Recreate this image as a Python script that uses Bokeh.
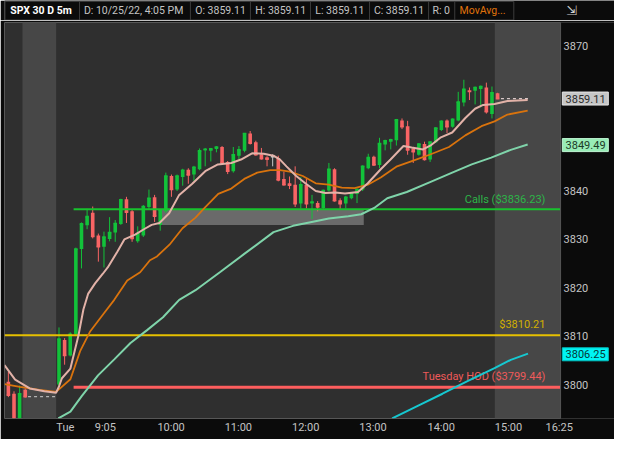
from bokeh.plotting import figure
from bokeh.models import Range1d, FixedTicker, ColumnDataSource
from bokeh.layouts import column
from bokeh.embed import file_html
from bokeh.resources import INLINE
from bokeh.core.properties import value

FONT = value("Roboto")

# ---------------- data ----------------
# bar index: 0 = first 5-min bar of Tuesday session; negatives = Monday close
bar_idx = [-9, -8, -7, -6] + list(range(0, 79))
opens = [3800.6, 3798.1, 3792.0, 3798.9,
         3800.0, 3809.2, 3806.0, 3810.4, 3828.0, 3832.9, 3835.5, 3830.8, 3828.5, 3830.1,
         3831.4, 3833.2, 3838.3, 3835.8, 3829.6, 3830.8, 3836.7, 3838.7, 3833.0, 3835.8,
         3843.1, 3840.3, 3842.9, 3844.4, 3843.4, 3844.5, 3848.4, 3848.3, 3848.7, 3849.1,
         3846.0, 3844.1, 3847.3, 3848.3, 3851.9, 3850.1, 3847.6, 3847.0, 3847.1, 3846.8,
         3842.5, 3841.6, 3841.3, 3837.4, 3841.3, 3837.4, 3837.5, 3836.5, 3840.1, 3844.5,
         3838.1, 3837.4, 3838.5, 3839.4, 3840.3, 3844.7, 3847.1, 3845.4, 3849.6, 3850.2,
         3850.5, 3854.6, 3853.4, 3848.8, 3847.5, 3849.7, 3846.5, 3850.1, 3852.6, 3854.6,
         3853.3, 3854.6, 3858.3, 3860.8, 3860.7, 3861.1, 3861.4, 3855.9, 3860.2]
highs = [3802.6, 3798.6, 3799.8, 3799.2,
         3811.8, 3809.6, 3810.8, 3828.3, 3833.5, 3836.3, 3836.8, 3831.2, 3831.6, 3834.6,
         3834.0, 3838.4, 3838.8, 3836.2, 3832.7, 3837.1, 3840.3, 3839.2, 3836.3, 3843.8,
         3843.4, 3843.4, 3844.6, 3844.7, 3845.2, 3848.8, 3848.9, 3848.9, 3849.3, 3849.3,
         3846.2, 3849.1, 3849.3, 3852.0, 3852.4, 3850.4, 3848.9, 3847.2, 3847.6, 3847.3,
         3844.0, 3843.0, 3845.1, 3842.9, 3842.5, 3839.2, 3837.9, 3840.3, 3845.8, 3844.7,
         3838.5, 3839.0, 3839.8, 3840.5, 3845.3, 3847.7, 3847.3, 3851.0, 3850.6, 3850.8,
         3854.9, 3855.0, 3854.5, 3849.0, 3849.9, 3850.2, 3850.3, 3853.2, 3854.6, 3854.8,
         3855.0, 3860.5, 3863.0, 3861.4, 3861.6, 3861.8, 3862.4, 3861.6, 3860.3]
lows = [3797.4, 3791.0, 3791.0, 3797.3,
        3799.5, 3804.1, 3805.8, 3810.0, 3824.0, 3832.1, 3830.2, 3825.4, 3824.2, 3829.6,
        3829.5, 3833.0, 3833.4, 3829.5, 3829.3, 3830.5, 3836.2, 3833.6, 3831.8, 3835.5,
        3838.8, 3840.0, 3841.1, 3841.5, 3842.1, 3844.3, 3845.1, 3846.1, 3848.0, 3845.5,
        3843.5, 3843.8, 3846.5, 3848.0, 3849.6, 3847.3, 3846.5, 3845.1, 3845.1, 3842.0,
        3841.1, 3840.4, 3836.7, 3836.4, 3836.4, 3834.2, 3835.8, 3836.3, 3839.9, 3837.8,
        3836.2, 3836.4, 3838.3, 3837.5, 3840.0, 3844.5, 3845.2, 3844.7, 3848.4, 3848.6,
        3849.4, 3852.8, 3847.5, 3845.8, 3847.3, 3846.3, 3846.0, 3849.9, 3852.4, 3852.0,
        3853.1, 3854.4, 3857.5, 3858.8, 3857.9, 3857.3, 3856.0, 3855.0, 3859.0]
closes = [3797.8, 3792.0, 3798.1, 3797.5,
          3809.4, 3806.0, 3810.4, 3828.0, 3833.2, 3834.7, 3830.6, 3828.5, 3830.5, 3831.4,
          3833.3, 3838.2, 3835.6, 3830.2, 3831.2, 3836.8, 3838.5, 3834.8, 3836.0, 3843.1,
          3840.3, 3843.1, 3844.3, 3843.3, 3844.9, 3848.3, 3848.6, 3848.7, 3849.1, 3845.8,
          3844.1, 3847.5, 3848.5, 3851.9, 3849.9, 3847.5, 3846.7, 3846.6, 3847.1, 3842.3,
          3841.3, 3841.2, 3837.4, 3841.3, 3837.4, 3837.7, 3836.7, 3840.1, 3844.5, 3838.0,
          3837.4, 3838.7, 3839.6, 3840.3, 3845.1, 3846.9, 3845.4, 3849.8, 3850.4, 3850.6,
          3854.7, 3853.3, 3848.5, 3848.1, 3849.7, 3846.5, 3850.1, 3853.0, 3854.4, 3853.3,
          3854.8, 3858.4, 3861.0, 3860.6, 3861.4, 3861.6, 3856.4, 3860.3, 3859.1]

# moving averages (bar index, price)
ma_fast_x = [-9.7, -7.8, -5.2, -2.6, -0.52, 0.0, 0.52, 2.03, 3.47, 4.34, 5.2, 6.42, 7.8, 8.67,
             10.4, 11.62, 13.53, 15.26, 16.47, 17.86, 19.59, 21.33, 23.7, 26.01, 28.26, 30.64,
             32.37, 34.33, 36.41, 38.15, 39.31, 40.45, 42.19, 43.92, 45.66, 47.39, 49.12, 50.86,
             53.18, 54.92, 57.22, 58.96, 61.26, 62.72, 64.73, 66.19, 67.92, 69.93, 72.26, 73.99,
             75.43, 77.46, 79.76, 83.35]
ma_fast_y = [3804.0, 3801.0, 3799.2, 3798.6, 3798.3, 3799.6, 3801.3, 3803.3, 3810.2, 3815.5,
             3818.8, 3820.9, 3822.9, 3824.2, 3827.5, 3830.0, 3831.0, 3832.2, 3833.0, 3833.4,
             3835.4, 3839.1, 3841.5, 3844.1, 3845.5, 3845.8, 3846.5, 3847.8, 3847.7, 3847.3,
             3846.5, 3845.1, 3843.1, 3841.5, 3840.0, 3839.6, 3839.7, 3839.5, 3839.8, 3841.6,
             3844.5, 3846.5, 3849.3, 3849.0, 3848.6, 3849.5, 3851.1, 3852.1, 3855.1, 3857.0,
             3857.8, 3858.0, 3858.6, 3858.8]
ma_mid_x = [-9.7, -6.94, -3.47, -0.52, 0.0, 2.03, 3.76, 5.5, 8.1, 9.83, 12.14, 14.44, 16.18,
            17.34, 19.65, 21.97, 24.28, 25.72, 28.32, 30.64, 32.95, 35.25, 37.58, 39.31, 41.04,
            43.35, 45.66, 47.98, 50.29, 52.59, 54.92, 57.22, 60.12, 63.0, 65.89, 69.36, 72.26,
            75.13, 77.46, 79.76, 83.35]
ma_mid_y = [3800.1, 3799.5, 3798.9, 3798.5, 3799.0, 3801.1, 3806.9, 3810.9, 3814.9, 3817.5,
            3821.5, 3823.2, 3825.7, 3826.4, 3828.9, 3832.3, 3834.5, 3836.3, 3839.4, 3840.5,
            3842.5, 3843.8, 3844.3, 3844.3, 3844.0, 3843.1, 3841.6, 3841.3, 3840.7, 3840.6,
            3841.3, 3842.8, 3845.1, 3846.3, 3847.5, 3849.1, 3851.5, 3853.4, 3854.4, 3855.8,
            3856.6]
ma_slow_x = [-0.12, 2.03, 4.04, 6.94, 9.83, 12.71, 15.61, 18.5, 21.38, 24.28, 28.61, 32.95,
             38.15, 41.62, 44.51, 47.98, 51.45, 53.75, 56.06, 58.38, 61.85, 65.89, 69.93,
             73.4, 76.87, 80.34, 83.35]
ma_slow_y = [3793.0, 3794.4, 3797.6, 3801.9, 3805.2, 3808.6, 3811.2, 3813.9, 3817.5, 3819.5,
             3823.2, 3827.0, 3831.5, 3832.8, 3833.5, 3834.3, 3834.8, 3835.2, 3836.5, 3838.5,
             3839.8, 3841.8, 3843.8, 3845.5, 3846.9, 3848.5, 3849.6]
ma_long_x = [59.25, 64.16, 68.2, 72.83, 77.46, 80.34, 83.41]
ma_long_y = [3793.0, 3795.8, 3798.1, 3800.8, 3803.4, 3805.1, 3806.4]

# price levels
calls_level = 3836.23
level_1 = 3810.21
hod_level = 3799.44
zone_low = 3833.0
zone_start, zone_end = 18.2, 54.2

# session boundaries (bar index)
ext_sessions = [(-6.5, -0.5), (77.5, 89.2)]
prev_close = 3797.5
last_price = 3859.11
ma_slow_last = 3849.49
ma_long_last = 3806.25

# axis ticks (positions = label centres)
x_tick_pos = [1.13, 8.24, 19.94, 31.9, 43.87, 55.84, 67.97, 79.94, 88.95]
x_tick_lab = ["Tue", "9:05", "10:00", "11:00", "12:00", "13:00", "14:00", "15:00", "16:25"]
y_ticks = [3800, 3810, 3820, 3830, 3840, 3870]

# header texts
header_texts = ["SPX 30 D 5m", "D: 10/25/22, 4:05 PM", "O: 3859.11", "H: 3859.11",
                "L: 3859.11", "C: 3859.11", "R: 0", "MovAvg..."]

# ---------------- header strip ----------------
BG = "#0b0b0b"
hdr = figure(width=614, height=20, x_range=Range1d(0, 630), y_range=Range1d(21, 0),
             toolbar_location=None, output_backend="svg", min_border=0)
hdr.axis.visible = False
hdr.grid.visible = False
hdr.outline_line_color = None
hdr.background_fill_color = BG
hdr.border_fill_color = BG
hdr_x = [6, 82, 197, 259, 321, 381.5, 442, 470]
sep_x = [0.5, 77.5, 192, 254, 316, 377, 438, 465, 526]
hdr.segment(x0=sep_x, x1=sep_x, y0=[1] * len(sep_x), y1=[21] * len(sep_x),
            line_color="#3c3c3c", line_width=1)
hdr.segment(x0=[0.5, 0.5], x1=[526, 526], y0=[1, 20.5], y1=[1, 20.5],
            line_color="#3c3c3c", line_width=1)
hdr.text(x=hdr_x[:1], y=[11], text=header_texts[:1], text_font=FONT, text_font_size="10.5px",
         text_font_style="bold", text_color="#ffffff", text_baseline="middle")
hdr.text(x=hdr_x[1:7], y=[11] * 6, text=header_texts[1:7], text_font=FONT,
         text_font_size="10.5px", text_color="#c4c4c4", text_baseline="middle")
hdr.text(x=hdr_x[7:], y=[11], text=header_texts[7:], text_font=FONT, text_font_size="10.5px",
         text_color="#e0730a", text_baseline="middle")
hdr.text(x=[586], y=[11], text=["\u21f2"], text_font=value("DejaVu Sans"),
         text_font_size="13px", text_color="#d0d0d0", text_baseline="middle", text_align="center")

# ---------------- main chart ----------------
X_END = 89.2  # right edge of the price pane (bar index)
p = figure(width=614, height=419, x_range=Range1d(-9.69, 98.79),
           y_range=Range1d(3792.98, 3874.83), y_axis_location=None,
           toolbar_location=None, output_backend="svg",
           min_border_left=4, min_border_right=0, min_border_top=2, min_border_bottom=21)
p.background_fill_color = "#2f2f2f"
p.border_fill_color = BG
p.outline_line_color = None
p.grid.visible = False

# extended-session shading
p.quad(left=[s[0] for s in ext_sessions], right=[s[1] for s in ext_sessions],
       bottom=[3700] * 2, top=[3900] * 2, fill_color="#474747", line_color=None)

# support zone
p.quad(left=[zone_start], right=[zone_end], bottom=[zone_low], top=[calls_level],
       fill_color="#6a6a6a", line_color=None)

# candles
def colour(o, c):
    if c > o:
        return "#12c23a"
    if c < o:
        return "#f86464"
    return "#c8c8c8"

cols = [colour(o, c) for o, c in zip(opens, closes)]
src = ColumnDataSource(dict(x=bar_idx, o=opens, h=highs, l=lows, c=closes, col=cols,
                            top=[max(o, c) for o, c in zip(opens, closes)],
                            bot=[min(o, c) for o, c in zip(opens, closes)]))
p.segment(x0="x", x1="x", y0="l", y1="h", source=src, line_color="col", line_width=1)
p.vbar(x="x", width=0.64, top="top", bottom="bot", source=src, fill_color="col",
       line_color=None)
p.scatter(x="x", y="c", source=src, marker="dash", size=3.6, line_color="col", line_width=1.6)

# dashed flat lines (no trading)
p.segment(x0=[-5.5], x1=[-0.6], y0=[prev_close], y1=[prev_close], line_color="#b4b4b4",
          line_width=1.2, line_dash="3 3")
p.segment(x0=[78.6], x1=[83.5], y0=[last_price], y1=[last_price], line_color="#d8c8c8",
          line_width=1.2, line_dash="3 3")

# level lines
p.segment(x0=[2.6], x1=[X_END], y0=[calls_level], y1=[calls_level], line_color="#18c22e",
          line_width=2)
p.segment(x0=[-12], x1=[X_END], y0=[level_1], y1=[level_1], line_color="#e6c000", line_width=2)
p.segment(x0=[2.6], x1=[X_END], y0=[hod_level], y1=[hod_level], line_color="#ff5e5e",
          line_width=3)

p.text(x=[86.5], y=[3838.3], text=[f"Calls (${calls_level:.2f})"], text_align="right",
       text_baseline="middle", text_font=FONT, text_font_size="11px", text_color="#2db548")
p.text(x=[86.5], y=[3812.4], text=[f"${level_1:.2f}"], text_align="right",
       text_baseline="middle", text_font=FONT, text_font_size="11px", text_color="#d2b000")
p.text(x=[86.5], y=[3801.7], text=[f"Tuesday HOD (${hod_level:.2f})"], text_align="right",
       text_baseline="middle", text_font=FONT, text_font_size="11px", text_color="#ee5a5a")

# moving averages
p.line(ma_slow_x, ma_slow_y, line_color="#7fd4aa", line_width=2)
p.line(ma_mid_x, ma_mid_y, line_color="#d9730d", line_width=1.8)
p.line(ma_fast_x, ma_fast_y, line_color="#e2b2a8", line_width=2)
p.line(ma_long_x, ma_long_y, line_color="#16c8d0", line_width=2)

# price-scale strip on the right
p.quad(left=[X_END], right=[120], bottom=[3700], top=[3900], fill_color=BG, line_color=None)
p.quad(left=[-9.69], right=[X_END], bottom=[3792.98], top=[3874.83], fill_color=None,
       line_color="#565656", line_width=1)

# price scale labels
p.text(x=[X_END] * len(y_ticks), y=y_ticks, text=[str(t) for t in y_ticks], x_offset=3,
       text_align="left", text_baseline="middle", text_font=FONT, text_font_size="11px",
       text_color="#c4c4c4")

# price tags
tag_vals = [last_price, ma_slow_last, ma_long_last]
tag_fill = ["#c6c6c6", "#98ecb6", "#00f4f4"]
tag_line = ["#e6e6e6", "#c0f8d4", "#00c4c4"]
tag_text = ["#2a2a2a", "#1c3a26", "#063838"]
p.rect(x=[93.6] * 3, y=tag_vals, width=46, height=13, width_units="screen",
       height_units="screen", fill_color=tag_fill, line_color=tag_line, line_width=1)
p.text(x=[X_END] * 3, y=tag_vals, text=[f"{v:.2f}" for v in tag_vals], x_offset=5,
       text_align="left", text_baseline="middle", text_font=FONT, text_font_size="11px",
       text_color=tag_text)

# time axis
p.xaxis.ticker = FixedTicker(ticks=x_tick_pos)
p.xaxis.major_label_overrides = {t: l for t, l in zip(x_tick_pos, x_tick_lab)}
p.xaxis.axis_line_color = None
p.xaxis.major_tick_line_color = None
p.xaxis.minor_tick_line_color = None
p.xaxis.major_tick_out = 0
p.xaxis.major_tick_in = 0
p.xaxis.major_label_standoff = 2
p.xaxis.major_label_text_color = "#c4c4c4"
p.xaxis.major_label_text_font = "Roboto"
p.xaxis.major_label_text_font_size = "11px"

layout = column(hdr, p)
open("out.html", "w").write(file_html(layout, INLINE))
